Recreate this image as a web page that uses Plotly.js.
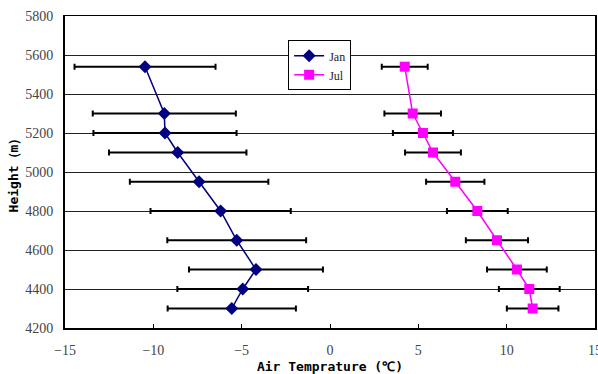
<!DOCTYPE html>
<html>
<head>
<meta charset="utf-8">
<script src="https://cdn.plot.ly/plotly-3.0.1.min.js"></script>
<style>
  html, body { margin: 0; padding: 0; background: #fff; }
  #chart { width: 598px; height: 374px; }
</style>
</head>
<body>
<div id="chart"></div>
<script>
// Sampling heights (m)
const heights = [5540, 5300, 5200, 5100, 4950, 4800, 4650, 4500, 4400, 4300];

// January mean air temperature (°C) and standard deviation
const janTemp = [-10.47, -9.38, -9.34, -8.62, -7.41, -6.19, -5.28, -4.19, -4.94, -5.56];
const janStd  = [3.99, 4.05, 4.05, 3.89, 3.92, 3.97, 3.93, 3.79, 3.70, 3.63];

// July mean air temperature (°C) and standard deviation
const julTemp = [4.23, 4.68, 5.26, 5.83, 7.09, 8.34, 9.45, 10.58, 11.28, 11.47];
const julStd  = [1.30, 1.60, 1.70, 1.58, 1.65, 1.72, 1.76, 1.69, 1.72, 1.46];

const xTicks = [-15, -10, -5, 0, 5, 10, 15];
const yTicks = [4200, 4400, 4600, 4800, 5000, 5200, 5400, 5600, 5800];

function errBars(arr) {
  return { type: 'data', array: arr, visible: true, color: '#000', thickness: 2, width: 3 };
}

const traces = [
  {
    name: 'Jan',
    x: janTemp, y: heights,
    type: 'scatter', mode: 'lines+markers',
    line: { color: '#000080', width: 1.5 },
    marker: { symbol: 'diamond', size: 10, color: '#000080' },
    error_x: errBars(janStd)
  },
  {
    name: 'Jul',
    x: julTemp, y: heights,
    type: 'scatter', mode: 'lines+markers',
    line: { color: '#FF00FF', width: 1.5 },
    marker: { symbol: 'square', size: 10, color: '#FF00FF' },
    error_x: errBars(julStd)
  },
  // invisible helper so the top/right frame lines are drawn
  { x: [-100], y: [0], xaxis: 'x2', yaxis: 'y2', type: 'scatter', mode: 'markers',
    showlegend: false, hoverinfo: 'skip', marker: { opacity: 0 } }
];

const titleFont = { family: 'DejaVu Sans Mono', size: 13, color: '#000', weight: 'bold' };
const tickFont = { family: 'Liberation Serif', size: 14, color: '#444' };

const layout = {
  width: 598, height: 374,
  margin: { l: 65, r: 3, t: 16, b: 46 },
  paper_bgcolor: '#fff', plot_bgcolor: '#fff',
  font: { family: 'Liberation Serif', size: 14, color: '#444' },
  showlegend: true,
  legend: {
    x: 0.421, y: 0.922, xanchor: 'left', yanchor: 'top',
    bgcolor: '#fff', bordercolor: '#000', borderwidth: 1,
    font: { family: 'Liberation Serif', size: 12, color: '#222' },
    itemwidth: 30, tracegroupgap: 0
  },
  xaxis: {
    range: [-15, 15], tickvals: xTicks,
    ticktext: xTicks.map(v => v < 0 ? '\u2212' + Math.abs(v) : String(v)),
    showgrid: false, zeroline: false,
    showline: true, linecolor: '#000', linewidth: 2,
    ticks: 'inside', ticklen: 4, tickcolor: '#000', tickwidth: 1,
    ticklabelstandoff: 8, ticklabeloverflow: 'allow',
    tickfont: tickFont,
    title: { text: 'Air Temprature (\u2103)', font: titleFont, standoff: 6 }
  },
  xaxis2: {
    overlaying: 'x', side: 'top', range: [-15, 15],
    showline: true, linecolor: '#000', linewidth: 1.5, showticklabels: false,
    showgrid: false, zeroline: false, ticks: ''
  },
  yaxis: {
    range: [4200, 5800], tickvals: yTicks,
    showgrid: true, gridcolor: '#222', gridwidth: 1,
    zeroline: false,
    showline: true, linecolor: '#000', linewidth: 2,
    ticks: '', ticklabelstandoff: 7,
    tickfont: tickFont,
    title: { text: 'Height\uFF08m\uFF09', font: titleFont, standoff: 4 }
  },
  yaxis2: {
    overlaying: 'y', side: 'right', range: [4200, 5800],
    showline: true, linecolor: '#000', linewidth: 1.5, showticklabels: false,
    showgrid: false, zeroline: false, ticks: ''
  }
};

Plotly.newPlot('chart', traces, layout, { staticPlot: true, displayModeBar: false });
</script>
</body>
</html>
